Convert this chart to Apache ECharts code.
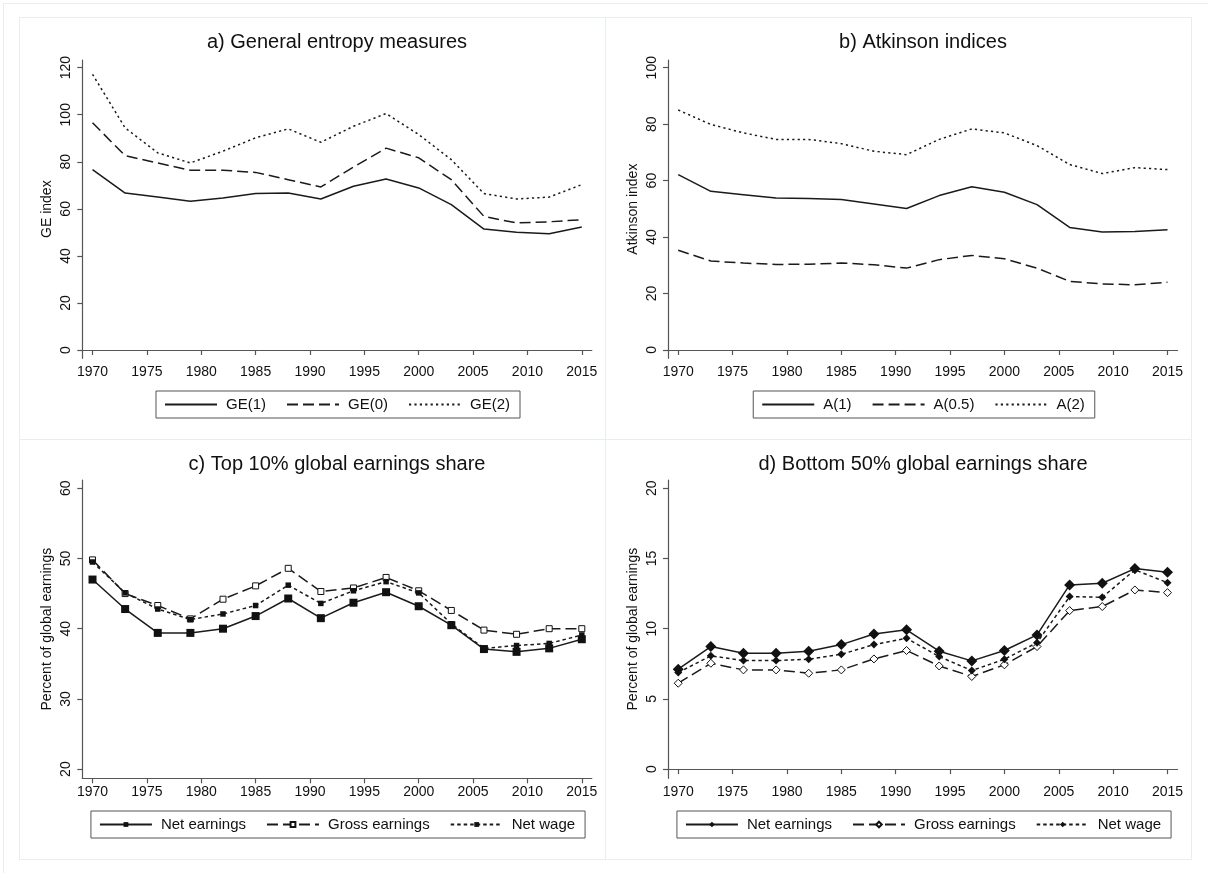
<!DOCTYPE html>
<html>
<head>
<meta charset="utf-8">
<script src="https://cdn.jsdelivr.net/npm/echarts@6/dist/echarts.min.js"></script>
<style>
  html, body { margin: 0; padding: 0; background: #ffffff; overflow: hidden; width: 1208px; height: 873px; }
  .chart { position: absolute; }
  .ln { position: absolute; background: #e8eeee; }
</style>
</head>
<body>
<div class="ln" style="left:3px;top:3px;width:1px;height:870px;"></div>
<div class="ln" style="left:3px;top:3px;width:1205px;height:1px;"></div>
<div class="ln" style="left:19px;top:17px;width:1172px;height:1px;"></div>
<div class="ln" style="left:19px;top:439px;width:1172px;height:1px;"></div>
<div class="ln" style="left:19px;top:859px;width:1172px;height:1px;"></div>
<div class="ln" style="left:19px;top:17px;width:1px;height:843px;"></div>
<div class="ln" style="left:605px;top:17px;width:1px;height:843px;"></div>
<div class="ln" style="left:1191px;top:17px;width:1px;height:843px;"></div>

<div id="ca" class="chart" style="left:19px;top:0px;width:636px;height:439px;"></div>
<div id="cb" class="chart" style="left:605px;top:0px;width:636px;height:439px;"></div>
<div id="cc" class="chart" style="left:19px;top:439px;width:636px;height:434px;"></div>
<div id="cd" class="chart" style="left:605px;top:439px;width:636px;height:434px;"></div>

<script>
// ---------- data ----------
const years = [1970, 1973, 1976, 1979, 1982, 1985, 1988, 1991, 1994, 1997, 2000, 2003, 2006, 2009, 2012, 2015];
const xTicks = [1970, 1975, 1980, 1985, 1990, 1995, 2000, 2005, 2010, 2015];

const ge1 = [76.7, 66.7, 65.0, 63.2, 64.6, 66.5, 66.7, 64.2, 69.6, 72.7, 68.9, 61.8, 51.4, 50.0, 49.4, 52.3];
const ge0 = [96.6, 82.6, 79.5, 76.4, 76.4, 75.5, 72.4, 69.3, 77.8, 85.8, 81.7, 72.4, 56.8, 54.0, 54.5, 55.4];
const ge2 = [117.2, 94.4, 83.8, 79.5, 84.5, 90.2, 94.0, 88.3, 95.1, 100.5, 91.6, 80.9, 66.5, 64.2, 65.0, 70.3];
const geTicks = [0, 20, 40, 60, 80, 100, 120];

const a1 = [62.1, 56.2, 55.0, 53.8, 53.7, 53.3, 51.7, 50.1, 54.7, 57.8, 55.9, 51.5, 43.4, 41.8, 42.0, 42.6];
const a05 = [35.3, 31.5, 30.8, 30.3, 30.4, 30.8, 30.2, 29.0, 32.0, 33.5, 32.3, 29.0, 24.3, 23.4, 23.1, 24.0];
const a2 = [85.0, 79.9, 76.9, 74.6, 74.6, 73.1, 70.4, 69.2, 74.6, 78.3, 76.9, 72.4, 65.7, 62.5, 64.6, 63.9];
const atkTicks = [0, 20, 40, 60, 80, 100];

const topNet = [47.0, 42.8, 39.4, 39.4, 40.0, 41.8, 44.3, 41.5, 43.7, 45.2, 43.2, 40.5, 37.1, 36.7, 37.2, 38.5];
const topGross = [49.8, 45.0, 43.3, 41.4, 44.2, 46.1, 48.6, 45.3, 45.8, 47.3, 45.4, 42.6, 39.8, 39.2, 40.0, 40.0];
const topWage = [49.5, 45.1, 42.8, 41.3, 42.1, 43.3, 46.2, 43.6, 45.4, 46.7, 45.1, 40.7, 37.2, 37.6, 37.9, 39.1];
const topTicks = [20, 30, 40, 50, 60];

const botNet = [7.12, 8.73, 8.26, 8.26, 8.40, 8.87, 9.63, 9.92, 8.40, 7.71, 8.45, 9.56, 13.12, 13.24, 14.28, 14.02];
const botGross = [6.12, 7.54, 7.07, 7.07, 6.83, 7.07, 7.85, 8.45, 7.35, 6.60, 7.43, 8.73, 11.29, 11.58, 12.76, 12.57];
const botWage = [6.88, 8.07, 7.73, 7.73, 7.83, 8.18, 8.87, 9.32, 8.02, 7.02, 7.83, 9.01, 12.29, 12.24, 14.19, 13.28];
const botTicks = [0, 5, 10, 15, 20];

// ---------- styles ----------
const FONT = '"Liberation Sans", Arial, Helvetica, sans-serif';
const INK = '#111111';
const AXIS = '#555555';
const SOLID = 'solid';
const LONGDASH = [11, 5];
const DOT = [2.2, 3.2];
const SHORTDASH = [3.5, 3];

function pairs(vals) { return years.map((y, i) => [y, vals[i]]); }

function lineSeries(name, vals, dash, sym) {
  const s = {
    name: name,
    type: 'line',
    data: pairs(vals),
    lineStyle: { color: '#1a1a1a', width: 1.5, type: dash },
    itemStyle: { color: '#1a1a1a' },
    symbol: 'none',
    showSymbol: false,
    silent: true
  };
  if (sym) {
    s.symbol = sym.shape;
    s.showSymbol = true;
    s.symbolSize = sym.size;
    s.itemStyle = { color: sym.fill, borderColor: '#111111', borderWidth: sym.border };
  }
  return s;
}

function build(cfg) {
  const legend = {
    data: cfg.series.map(s => s.name),
    top: cfg.legendTop, left: 'center',
    orient: 'horizontal',
    borderColor: '#555555', borderWidth: 1, borderRadius: 0,
    padding: [6, 10, 6, 8],
    itemWidth: 52, itemHeight: cfg.legendMark, itemGap: 20,
    selectedMode: false,
    textStyle: { fontFamily: FONT, fontSize: 15, color: INK, padding: [0, 0, 0, 4] }
  };
  if (!cfg.markers) legend.itemStyle = { opacity: 0 };
  return {
    animation: false,
    backgroundColor: 'transparent',
    title: {
      text: cfg.title, left: 'center', top: cfg.titleTop, padding: 0,
      textStyle: { fontFamily: FONT, fontSize: 20, fontWeight: 'normal', color: INK }
    },
    legend: legend,
    grid: { left: cfg.gridLeft, top: cfg.gridTop, width: 509.5, height: 298.3 },
    xAxis: {
      type: 'value', min: 1969.06, max: 2015.92,
      axisLine: { show: true, lineStyle: { color: AXIS, width: 1.2 } },
      axisTick: { show: true, length: 5, customValues: xTicks, lineStyle: { color: AXIS, width: 1.2 } },
      axisLabel: { customValues: xTicks, formatter: v => String(v), fontFamily: FONT, fontSize: 14, color: INK, margin: 7 },
      splitLine: { show: false }
    },
    yAxis: {
      type: 'value', min: cfg.yMin, max: cfg.yMax,
      name: cfg.yName, nameLocation: 'middle', nameGap: 28, nameMoveOverlap: false,
      nameTextStyle: { fontFamily: FONT, fontSize: 14, color: INK },
      axisLine: { show: true, lineStyle: { color: AXIS, width: 1.2 } },
      axisTick: { show: true, length: 5, customValues: cfg.yTicks, lineStyle: { color: AXIS, width: 1.2 } },
      axisLabel: { customValues: cfg.yTicks, rotate: 90, fontFamily: FONT, fontSize: 14, color: INK, margin: 9 },
      splitLine: { show: false }
    },
    series: cfg.series
  };
}

const panels = [
  {
    id: 'ca', title: 'a) General entropy measures', titleTop: 32, legendTop: 391, legendMark: 12, markers: false,
    gridLeft: 63.3, gridTop: 60, yMin: -3.53, yMax: 123.27, yTicks: geTicks, yName: 'GE index',
    series: [lineSeries('GE(1)', ge1, SOLID), lineSeries('GE(0)', ge0, LONGDASH), lineSeries('GE(2)', ge2, DOT)]
  },
  {
    id: 'cb', title: 'b) Atkinson indices', titleTop: 32, legendTop: 391, legendMark: 12, markers: false,
    gridLeft: 63, gridTop: 60, yMin: -2.95, yMax: 102.73, yTicks: atkTicks, yName: 'Atkinson index',
    series: [lineSeries('A(1)', a1, SOLID), lineSeries('A(0.5)', a05, LONGDASH), lineSeries('A(2)', a2, DOT)]
  },
  {
    id: 'cc', title: 'c) Top 10% global earnings share', titleTop: 15, legendTop: 372, legendMark: 6, markers: true,
    gridLeft: 63.3, gridTop: 41, yMin: 18.69, yMax: 61.18, yTicks: topTicks, yName: 'Percent of global earnings',
    series: [
      lineSeries('Net earnings', topNet, SOLID, { shape: 'rect', size: 8, fill: '#111111', border: 0 }),
      lineSeries('Gross earnings', topGross, LONGDASH, { shape: 'rect', size: 6, fill: '#ffffff', border: 1 }),
      lineSeries('Net wage', topWage, SHORTDASH, { shape: 'rect', size: 5.5, fill: '#111111', border: 0 })
    ]
  },
  {
    id: 'cd', title: 'd) Bottom 50% global earnings share', titleTop: 15, legendTop: 372, legendMark: 7, markers: true,
    gridLeft: 63, gridTop: 41, yMin: -0.65, yMax: 20.59, yTicks: botTicks, yName: 'Percent of global earnings',
    series: [
      lineSeries('Net earnings', botNet, SOLID, { shape: 'diamond', size: 11, fill: '#111111', border: 0 }),
      lineSeries('Gross earnings', botGross, LONGDASH, { shape: 'diamond', size: 8, fill: '#ffffff', border: 1 }),
      lineSeries('Net wage', botWage, SHORTDASH, { shape: 'diamond', size: 8, fill: '#111111', border: 0 })
    ]
  }
];

panels.forEach(p => {
  const chart = echarts.init(document.getElementById(p.id), null, { renderer: 'canvas' });
  chart.setOption(build(p));
});
</script>
</body>
</html>
